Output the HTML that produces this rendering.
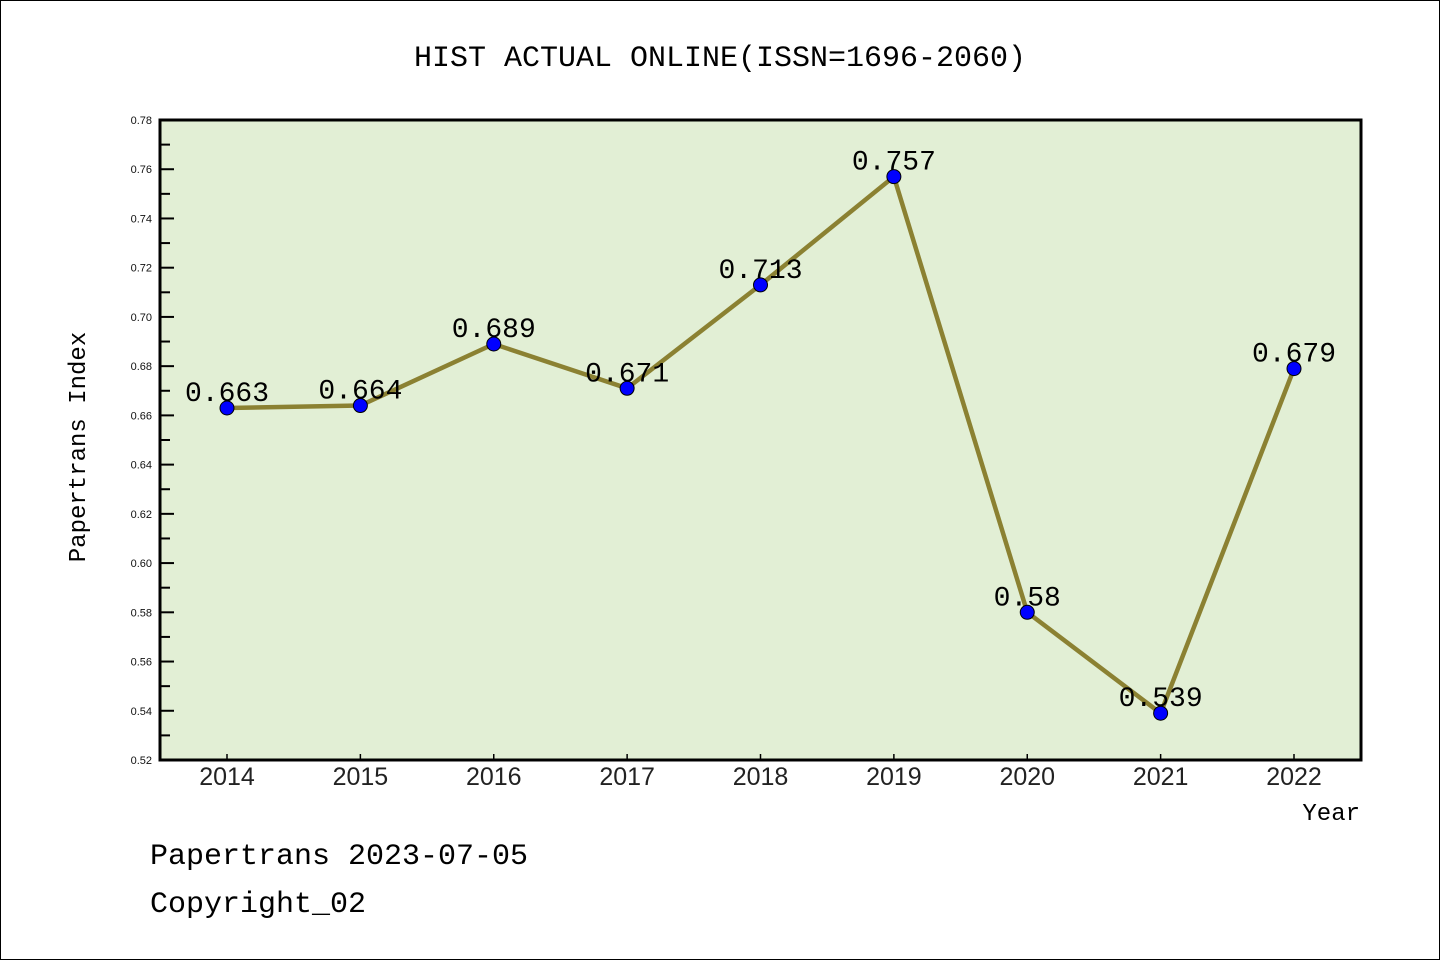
<!DOCTYPE html>
<html><head><meta charset="utf-8"><style>
body{margin:0;background:#fff}
svg{display:block}
text{font-family:"Liberation Mono","Noto Sans CJK SC",monospace}
text.sans{font-family:"Liberation Sans","Noto Sans CJK SC",sans-serif}
</style></head><body>
<svg id="c" width="1440" height="960" xmlns="http://www.w3.org/2000/svg">
<rect x="0.5" y="0.5" width="1439" height="959" fill="#fff" stroke="#000"/>
<text x="720" y="66" font-size="30" text-anchor="middle">HIST ACTUAL ONLINE(ISSN=1696-2060)</text>
<rect x="160" y="120" width="1201" height="640" fill="#e2efd5"/>
<g id="ticks"></g>
<g id="series"></g>
<rect x="160" y="120" width="1201" height="640" fill="none" stroke="#000" stroke-width="3"/>
<text x="85" y="447" font-size="24" text-anchor="middle" transform="rotate(-90 85 447)">Papertrans Index</text>
<text x="1360" y="820" font-size="24" text-anchor="end">Year</text>
<text x="150" y="864" font-size="30">Papertrans 2023-07-05</text>
<text x="150" y="912" font-size="30">Copyright_02</text>
</svg>
<script>
const years=["2014","2015","2016","2017","2018","2019","2020","2021","2022"];
const values=[0.663,0.664,0.689,0.671,0.713,0.757,0.58,0.539,0.679];
const yTicks=[0.52,0.54,0.56,0.58,0.60,0.62,0.64,0.66,0.68,0.70,0.72,0.74,0.76,0.78];
const NS="http://www.w3.org/2000/svg";
const yMin=0.52,yMax=0.78,yTop=120,yBot=760;
const y=v=>yBot-(v-yMin)/(yMax-yMin)*(yBot-yTop);
const x=i=>227+i*(1294-227)/(years.length-1);
const T=document.getElementById('ticks'),S=document.getElementById('series');
function mk(tag,at,p){const e=document.createElementNS(NS,tag);for(const k in at)e.setAttribute(k,at[k]);p.appendChild(e);return e;}
yTicks.forEach((v,i)=>{
 const l=mk('line',{x1:160,x2:174,y1:y(v),y2:y(v),stroke:'#000','stroke-width':2},T);
 
 
 const t=mk('text',{x:152,y:y(v)+4,'font-size':11,'text-anchor':'end',fill:'#111',class:'sans'},T);
 t.textContent=v.toFixed(2);
 
 
 if(i<yTicks.length-1){const m=mk('line',{x1:160,x2:170,y1:y(v+0.01),y2:y(v+0.01),stroke:'#000','stroke-width':2},T);
 
 }
});
years.forEach((yr,i)=>{
 const l=mk('line',{x1:x(i),x2:x(i),y1:760,y2:754,stroke:'#000','stroke-width':1.5},T);
 
 
 const t=mk('text',{x:x(i),y:785,'font-size':25,'text-anchor':'middle',fill:'#222',class:'sans'},T);
 t.textContent=yr;
 
 
});
const pl=mk('polyline',{points:values.map((v,i)=>x(i)+','+y(v)).join(' '),fill:'none',stroke:'#8b8132','stroke-width':4.5},S);


values.forEach((v,i)=>{
 const c=mk('circle',{cx:x(i),cy:y(v),r:7,fill:'#0000ff',stroke:'#000','stroke-width':1},S);
 
 
 const t=mk('text',{x:x(i),y:y(v)-7,'font-size':28,'text-anchor':'middle',fill:'#000'},S);
 t.textContent=String(v);
 
 
});
</script>
</body></html>
